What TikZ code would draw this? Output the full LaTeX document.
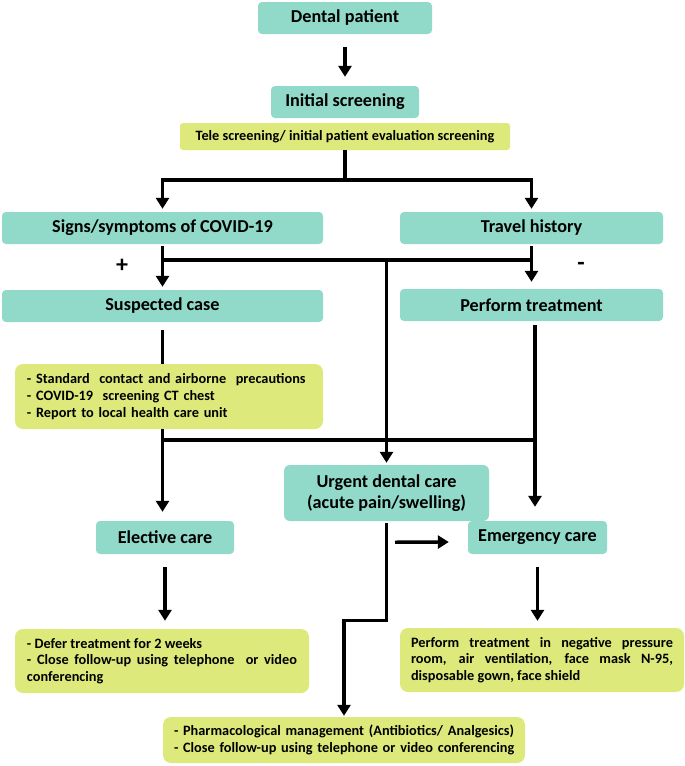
\documentclass[tikz,border=0pt]{standalone}
\usepackage{fontspec}
\setmainfont{Carlito}
\usetikzlibrary{arrows.meta}
\definecolor{teal1}{RGB}{145,217,201}
\definecolor{yel1}{RGB}{221,234,123}
\begin{document}
\begin{tikzpicture}[x=1pt,y=-1pt,
 mainbox/.style={fill=teal1, rounded corners=4pt, inner sep=0pt, font=\fontsize{18.2}{21}\selectfont\bfseries, align=center},
 note/.style={fill=yel1, rounded corners=8pt, inner ysep=0pt, font=\fontsize{14.3}{16.8}\selectfont\bfseries},
 ln/.style={line width=3.4pt},
 arr/.style={line width=3.4pt, -{Triangle[length=11pt,width=13pt]}},
 sign/.style={font=\fontsize{24}{24}\selectfont\bfseries, inner sep=0pt}]
\useasboundingbox (0,0) rectangle (685,766);
\fill[white] (0,0) rectangle (685,766);
% main boxes
\node[mainbox, minimum width=174pt, minimum height=32pt] (dental) at (345,18) {Dental patient};
\node[mainbox, minimum width=148pt, minimum height=32pt] (init) at (345,102) {Initial screening};
\node[note, rounded corners=3pt, minimum width=330pt, minimum height=27pt, inner xsep=0pt] (tele) at (345,136.5) {Tele screening/ initial patient evaluation screening};
\node[mainbox, minimum width=321pt, minimum height=32pt] (signs) at (162.5,228) {Signs/symptoms of COVID-19};
\node[mainbox, minimum width=263pt, minimum height=32pt] (travel) at (531.5,228) {Travel history};
\node[mainbox, minimum width=321pt, minimum height=32pt] (suspect) at (162.5,306) {Suspected case};
\node[mainbox, minimum width=263pt, minimum height=32pt] (perform) at (531.5,305) {Perform treatment};
\node[note, text width=284pt, inner xsep=12pt, minimum height=65pt, align=left] (note1) at (169,396.5) {- Standard\ \ contact and airborne\ \ precautions\\- COVID-19\ \ screening CT chest\\- Report to local health care unit};
\node[mainbox, minimum width=205pt, minimum height=56pt, rounded corners=6pt] (urgent) at (386.5,493) {Urgent dental care\\(acute pain/swelling)};
\node[mainbox, minimum width=138pt, minimum height=33pt] (elective) at (165,537.5) {Elective care};
\node[mainbox, minimum width=139pt, minimum height=33pt] (emergency) at (537.5,537.5) {Emergency care};
\node[note, text width=270pt, inner xsep=12pt, minimum height=64pt, align=justify] (note2) at (162,661) {- Defer treatment for 2 weeks\\- Close follow-up using telephone\ \ or video\linebreak conferencing};
\node[note, text width=262pt, inner xsep=11pt, minimum height=64pt, align=justify] (note3) at (542,660) {Perform treatment in negative pressure\linebreak room, air ventilation, face mask N-95,\linebreak disposable gown, face shield};
\node[note, text width=340pt, inner xsep=11pt, minimum height=46pt, align=left] (pharm) at (344,740) {\mbox{- Pharmacological management (Antibiotics/ Analgesics)}\\\mbox{- Close follow-up using telephone or video conferencing}};
% signs
\node[sign] (plus) at (122,266) {+};
\node[sign] (minus) at (581,266) {-};
% junction coordinates
\coordinate (j1) at (345,180);
\coordinate (j2l) at (162.5,260);
\coordinate (j2r) at (531.5,260);
\coordinate (j2m) at (386.5,260);
\coordinate (j3l) at (162.5,440);
\coordinate (j3r) at (535,440);
% connectors
\draw[arr, shorten <=13pt, shorten >=9pt] (dental) -- (init);
\draw[ln] (tele.south) -- (j1);
\draw[arr, shorten >=3pt] (j1) -| (signs.north);
\draw[arr, shorten >=3pt] (j1) -| (travel.north);
\draw[arr, shorten <=2pt, shorten >=3pt] (signs) -- (suspect);
\draw[arr, shorten <=2pt, shorten >=7pt] (travel) -- (perform);
\draw[ln] (j2l) -- (j2r);
\draw[arr, shorten >=2pt] (j2m) -- (urgent);
\draw[ln, shorten <=8pt] (suspect.south) -- (suspect.south |- note1.north);
\draw[arr, shorten >=9pt] (suspect.south |- note1.south) -- (suspect.south |- elective.north);
\draw[ln] (j3l) -- (j3r);
\draw[arr, shorten <=4pt, shorten >=14pt] ([xshift=3.5pt]perform.south) -- ([xshift=-2.5pt]emergency.north);
\draw[arr] ([xshift=8.5pt,yshift=-21pt]urgent.south) -- ([xshift=-19pt,yshift=-4.5pt]emergency.west);
\draw[arr, shorten <=13pt, shorten >=8pt] (elective.south) -- (elective.south |- note2.north);
\draw[arr, shorten <=13pt, shorten >=7pt] (emergency.south) -- (emergency.south |- note3.north);
\draw[arr, shorten <=2pt, shorten >=1pt] (urgent.south) -- ++(0,99) -| (pharm.north);
\end{tikzpicture}
\end{document}
